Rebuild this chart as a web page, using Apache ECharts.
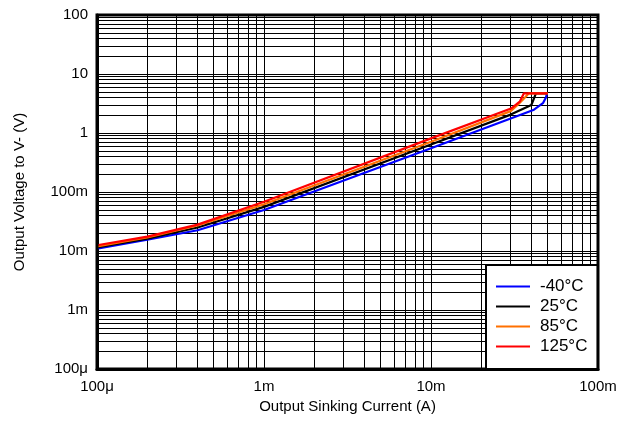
<!DOCTYPE html>
<html>
<head>
<meta charset="utf-8">
<script src="https://cdn.jsdelivr.net/npm/echarts@6/dist/echarts.min.js"></script>
<style>html,body{margin:0;padding:0;background:#fff}#c{width:631px;height:421px}</style>
</head>
<body>
<div id="c"></div>
<script>
var seriesNames = ['-40°C', '25°C', '85°C', '125°C'];
var seriesColors = ['#0000FF', '#000000', '#FF7000', '#FF0000'];
var xBlue   = [1e-4, 2e-4, 4e-4, 1e-3, 1e-2, 3e-2, 4.1e-2, 4.68e-2, 4.88e-2, 4.95e-2, 5e-2];
var yBlue   = [0.011, 0.0155, 0.0225, 0.0495, 0.55, 1.76, 2.45, 3.2, 4.0, 4.7, 4.7];
var xBlack  = [1e-4, 2e-4, 4e-4, 1e-3, 1e-2, 3e-2, 3.99e-2, 4.25e-2, 5e-2];
var yBlack  = [0.0115, 0.0162, 0.025, 0.056, 0.64, 2.05, 2.98, 4.7, 4.7];
var xOrange = [1e-4, 2e-4, 4e-4, 1e-3, 1e-2, 3e-2, 3.3e-2, 3.69e-2, 3.85e-2, 5e-2];
var yOrange = [0.012, 0.017, 0.027, 0.062, 0.71, 2.35, 2.98, 4.1, 4.7, 4.7];
var xRed    = [1e-4, 2e-4, 4e-4, 1e-3, 1e-2, 3.04e-2, 3.4e-2, 3.6e-2, 5e-2];
var yRed    = [0.0125, 0.0175, 0.028, 0.0685, 0.81, 2.63, 3.4, 4.7, 4.7];
var xTickValues = [1e-4, 1e-3, 1e-2, 1e-1];
var xTickLabels = ['100μ', '1m', '10m', '100m'];
var yTickValues = [1e-4, 1e-3, 1e-2, 1e-1, 1, 10, 100];
var yTickLabels = ['100μ', '1m', '10m', '100m', '1', '10', '100'];
var xTitle = 'Output Sinking Current (A)';
var yTitle = 'Output Voltage to V- (V)';

function pairs(xs, ys) { return xs.map(function (x, i) { return [x, ys[i]]; }); }
function labelFor(vals, labels) {
  return function (v) {
    for (var i = 0; i < vals.length; i++) {
      if (Math.abs(Math.log10(v) - Math.log10(vals[i])) < 1e-6) return labels[i];
    }
    return '';
  };
}
function minors(decades) {
  var out = [];
  decades.forEach(function (d) { for (var k = 2; k <= 9; k++) out.push(k * d); });
  return out;
}
var gridData = [];
minors([1e-4, 1e-3, 1e-2]).forEach(function (v) { gridData.push({ xAxis: v }); });
minors([1e-4, 1e-3, 1e-2, 1e-1, 1, 10]).forEach(function (v) { gridData.push({ yAxis: v }); });

var font = 'Liberation Sans, Arial, sans-serif';
var xsAll = [xBlue, xBlack, xOrange, xRed];
var ysAll = [yBlue, yBlack, yOrange, yRed];
var series = [{
  type: 'line', data: [], z: 1, silent: true,
  markLine: {
    silent: true, symbol: 'none', animation: false, precision: 12,
    label: { show: false },
    lineStyle: { color: '#000', width: 1, type: 'solid' },
    emphasis: { disabled: true },
    data: gridData
  }
}];
seriesNames.forEach(function (n, i) {
  series.push({
    name: n, type: 'line', z: 5, showSymbol: false, symbol: 'none',
    data: pairs(xsAll[i], ysAll[i]),
    lineStyle: { color: seriesColors[i], width: 2.2 },
    itemStyle: { color: seriesColors[i] }
  });
});

var chart = echarts.init(document.getElementById('c'), null, { renderer: 'canvas' });
chart.setOption({
  animation: false,
  backgroundColor: '#fff',
  grid: { left: 97, right: 33, top: 15, bottom: 52, show: true, borderColor: '#000', borderWidth: 3, backgroundColor: 'transparent', z: 10 },
  legend: {
    orient: 'vertical', left: 486, top: 265, z: 20,
    data: seriesNames,
    itemWidth: 34, itemHeight: 14, itemGap: 3,
    padding: [13, 10, 14, 10],
    backgroundColor: '#fff', borderColor: '#000', borderWidth: 2,
    icon: 'path://M0,6L34,6L34,8L0,8Z',
    textStyle: { fontFamily: font, fontSize: 17, color: '#000', padding: [0, 0, 0, 5] }
  },
  xAxis: {
    type: 'log', logBase: 10, min: 1e-4, max: 1e-1, interval: 1,
    name: xTitle, nameLocation: 'middle', nameGap: 29,
    nameTextStyle: { fontFamily: font, fontSize: 15, color: '#000' },
    axisLine: { show: true, lineStyle: { color: '#000', width: 3 } },
    axisTick: { show: false },
    axisLabel: { fontFamily: font, fontSize: 15, color: '#000', margin: 10, formatter: labelFor(xTickValues, xTickLabels), showMinLabel: true, showMaxLabel: true },
    splitLine: { show: true, lineStyle: { color: '#000', width: 1 } },
    minorTick: { show: false }, minorSplitLine: { show: false }
  },
  yAxis: {
    type: 'log', logBase: 10, min: 1e-4, max: 100, interval: 1,
    name: yTitle, nameLocation: 'middle', nameGap: 70,
    nameTextStyle: { fontFamily: font, fontSize: 15, color: '#000' },
    axisLine: { show: true, lineStyle: { color: '#000', width: 3 } },
    axisTick: { show: false },
    axisLabel: { fontFamily: font, fontSize: 15, color: '#000', margin: 9, formatter: labelFor(yTickValues, yTickLabels), showMinLabel: true, showMaxLabel: true },
    splitLine: { show: true, lineStyle: { color: '#000', width: 1 } },
    minorTick: { show: false }, minorSplitLine: { show: false }
  },
  series: series
});
</script>
</body>
</html>
